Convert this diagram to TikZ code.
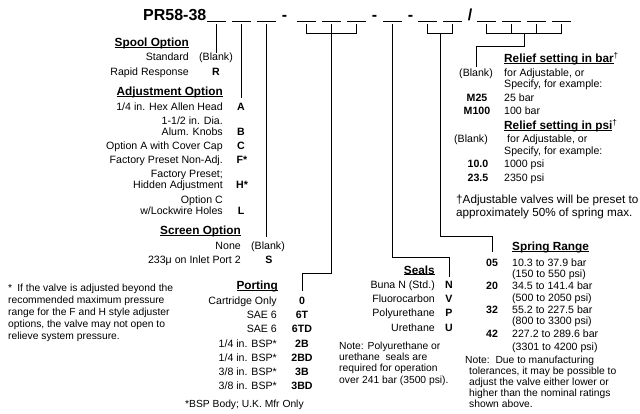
\documentclass[tikz,border=0pt]{standalone}
\usepackage{fontspec}
\setmainfont{Liberation Sans}
\newcommand\ulhead[1]{\setbox0\hbox{#1}\rlap{\vrule width\wd0 height -0.4pt depth 1.4pt}\box0}

\begin{document}
\begin{tikzpicture}[
  x=1pt,y=-1pt,
  txt/.style={inner sep=0pt,font=\fontsize{10.6}{11}\selectfont},
  code/.style={inner sep=0pt,anchor=base,font=\bfseries\fontsize{10.6}{11}\selectfont},
  head/.style={inner sep=0pt,font=\bfseries\fontsize{11.8}{13}\selectfont},
  note/.style={inner sep=0pt,anchor=base west,align=left,font=\fontsize{10.3}{11.4}\selectfont},
  title/.style={inner sep=0pt,anchor=base,font=\bfseries\fontsize{16}{18}\selectfont},
  wire/.style={line width=0.9pt},
  blank/.style={line width=0.8pt}
]
  \useasboundingbox (0,0) rectangle (640,414);

  \node[title,anchor=base west] (part) at (143,20.5) {PR58-38};
  \node[title] (dash1) at (284.5,20.5) {-};
  \node[title] (dash2) at (374.5,20.5) {-};
  \node[title] (dash3) at (410.5,20.5) {-};
  \node[title] (slash) at (470,20.5) {/};
  \foreach \x [count=\i] in {207,232,257,297,322,347,383,418,443,477,502,527,552} {
    \draw[blank] (\x,21.3) -- ++(19,0);
    \coordinate (b\i) at (\x+9.5,24);
  }
  \coordinate (sprmid) at (440,33.5);
  \coordinate (relmid) at (524,33.5);

  \node[head,anchor=base east] (sphead) at (189,47) {\ulhead{Spool Option}};
  \node[txt,anchor=base east] (spstd) at (189,61) {Standard};
  \node[txt,anchor=base] (spblank) at (216,61) {(Blank)};
  \node[txt,anchor=base east] (sprapid) at (189,76) {Rapid Response};
  \node[code] (spR) at (216,76) {R};

  \node[head,anchor=base east] (adjhead) at (223,96) {\ulhead{Adjustment Option}};
  \node[txt,anchor=base east] (adjhex) at (223,111) {1/4 in. Hex Allen Head};
  \node[code] (adjA) at (241,111) {A};
  \node[txt,anchor=base east,align=right] (adjknob) at (223,136) {1-1/2 in. Dia.\\Alum. Knobs};
  \node[code] (adjB) at (241,136) {B};
  \node[txt,anchor=base east] (adjcap) at (223,150) {Option A with Cover Cap};
  \node[code] (adjC) at (241,150) {C};
  \node[txt,anchor=base east] (adjfix) at (223,164) {Factory Preset Non-Adj.};
  \node[code] (adjF) at (242,164) {F*};
  \node[txt,anchor=base east,align=right] (adjhid) at (223,189) {Factory Preset;\\Hidden Adjustment};
  \node[code] (adjH) at (242,189) {H*};
  \node[txt,anchor=base east,align=right,font=\fontsize{10.6}{12}\selectfont] (adjlock) at (223,215) {Option C\\w/Lockwire Holes};
  \node[code] (adjL) at (241,215) {L};

  \node[head,anchor=base east] (scrhead) at (241,235) {\ulhead{Screen Option}};
  \node[txt,anchor=base east] (scrnone) at (241,250) {None};
  \node[txt,anchor=base] (scrblank) at (268,250) {(Blank)};
  \node[txt,anchor=base east] (scrinlet) at (241,263) {233μ on Inlet Port 2};
  \node[code] (scrS) at (269,263) {S};

  \node[note,font=\fontsize{10.3}{12}\selectfont] (adjnote) at (8,339) {*\enspace If the valve is adjusted beyond the\\recommended maximum pressure\\range for the F and H style adjuster\\options, the valve may not open to\\relieve system pressure.};

  \node[head,anchor=base east] (prthead) at (278,290) {\ulhead{Porting}};
  \node[txt,anchor=base east] (prtcart) at (277,304) {Cartridge Only};
  \node[code] (prt0) at (302,304) {0};
  \node[txt,anchor=base east] (prtsae) at (277,318) {SAE 6};
  \node[code] (prt6T) at (302,318) {6T};
  \node[txt,anchor=base east] (prtsaed) at (277,332) {SAE 6};
  \node[code] (prt6TD) at (302,332) {6TD};
  \node[txt,anchor=base east] (prtqa) at (277,347) {1/4 in. BSP*};
  \node[code] (prt2B) at (302,347) {2B};
  \node[txt,anchor=base east] (prtqb) at (277,361) {1/4 in. BSP*};
  \node[code] (prt2BD) at (302,361) {2BD};
  \node[txt,anchor=base east] (prtea) at (277,375) {3/8 in. BSP*};
  \node[code] (prt3B) at (302,375) {3B};
  \node[txt,anchor=base east] (prteb) at (277,389) {3/8 in. BSP*};
  \node[code] (prt3BD) at (302,389) {3BD};
  \node[note] (prtfoot) at (185,407) {*BSP Body; U.K. Mfr Only};

  \node[head,anchor=base east] (selhead) at (435,274) {\ulhead{Seals}};
  \node[txt,anchor=base east] (selbuna) at (435,288) {Buna N (Std.)};
  \node[code] (selN) at (449,288) {N};
  \node[txt,anchor=base east] (selfluoro) at (435,302) {Fluorocarbon};
  \node[code] (selV) at (449,302) {V};
  \node[txt,anchor=base east] (selpoly) at (435,316) {Polyurethane};
  \node[code] (selP) at (449,316) {P};
  \node[txt,anchor=base east] (selure) at (435,331) {Urethane};
  \node[code] (selU) at (449,331) {U};
  \node[note,font=\fontsize{10.3}{11.3}\selectfont] (selnote) at (339,383) {Note: Polyurethane or\\urethane\ \ seals are\\required for operation\\over 241 bar (3500 psi).};

  \node[head,anchor=base west] (sprhead) at (512,251) {\ulhead{Spring Range}};
  \node[code] (spr05) at (492,266) {05};
  \node[txt,anchor=base west,align=left] (sprr05) at (512,277) {10.3 to 37.9 bar\\(150 to 550 psi)};
  \node[code] (spr20) at (492,290) {20};
  \node[txt,anchor=base west,align=left] (sprr20) at (512,301) {34.5 to 141.4 bar\\(500 to 2050 psi)};
  \node[code] (spr32) at (492,313) {32};
  \node[txt,anchor=base west,align=left] (sprr32) at (512,324) {55.2 to 227.5 bar\\(800 to 3300 psi)};
  \node[code] (spr42) at (492,337) {42};
  \node[txt,anchor=base west,align=left] (sprr42) at (512,350) {227.2 to 289.6 bar\\[2pt](3301 to 4200 psi)};
  \node[note,font=\fontsize{10.3}{11}\selectfont] (sprnote) at (465,407) {Note:\ \ Due to manufacturing\\\hspace*{4pt}tolerances, it may be possible to\\\hspace*{4pt}adjust the valve either lower or\\\hspace*{4pt}higher than the nominal ratings\\\hspace*{4pt}shown above.};

  \node[head,anchor=base west] (barhead) at (504,63) {\ulhead{Relief setting in bar}\textsuperscript{\mdseries †}};
  \node[txt,anchor=base east] (barblank) at (493,77) {(Blank)};
  \node[txt,anchor=base west,align=left] (bartext) at (504,88) {for Adjustable, or\\Specify, for example:};
  \node[code] (barM25) at (477,102) {M25};
  \node[txt,anchor=base west] (bar25) at (504,102) {25 bar};
  \node[code] (barM100) at (477,115) {M100};
  \node[txt,anchor=base west] (bar100) at (504,115) {100 bar};
  \node[head,anchor=base west] (psihead) at (504,130) {\ulhead{Relief setting in psi}\textsuperscript{\mdseries †}};
  \node[txt,anchor=base] (psiblank) at (471,143) {(Blank)};
  \node[txt,anchor=base west,align=left,font=\fontsize{10.6}{12}\selectfont] (psitext) at (504,155) {\hspace*{3pt}for Adjustable, or\\Specify, for example:};
  \node[code] (psi10) at (478,168) {10.0};
  \node[txt,anchor=base west] (psi1000) at (504,168) {1000 psi};
  \node[code] (psi23) at (478,182) {23.5};
  \node[txt,anchor=base west] (psi2350) at (504,182) {2350 psi};
  \node[note,font=\fontsize{11.7}{13}\selectfont] (relnote) at (456,217) {†Adjustable valves will be preset to\\approximately 50\% of spring max.};

  \draw[wire] (b1) -- (b1 |- spblank.north);
  \draw[wire,shorten >=6pt] (b2) -- (b2 |- adjA.north);
  \draw[wire,shorten >=5pt] (b3) -- (b3 |- scrblank.north);
  \draw[wire] (b4) -- ++(0,9.5) -| (b6);
  \draw[wire] (b5) -- (b5 |- 0,273) -| ([yshift=5pt]prt0.north);
  \draw[wire] (b7) -- (b7 |- 0,257) -| ([yshift=4pt]selN.north);
  \draw[wire] (b8) -- ++(0,9.5) -| (b9);
  \draw[wire] (sprmid) -- (sprmid |- 0,236) -| ([yshift=6pt]spr05.north);
  \draw[wire] (b10) -- ++(0,9.5) -| (b13);
  \draw[wire] (b11) -- ++(0,9.5);
  \draw[wire] (b12) -- ++(0,9.5);
  \draw[wire] (relmid) -- (relmid |- 0,46) -| ([yshift=2pt]barblank.north);
\end{tikzpicture}
\end{document}
